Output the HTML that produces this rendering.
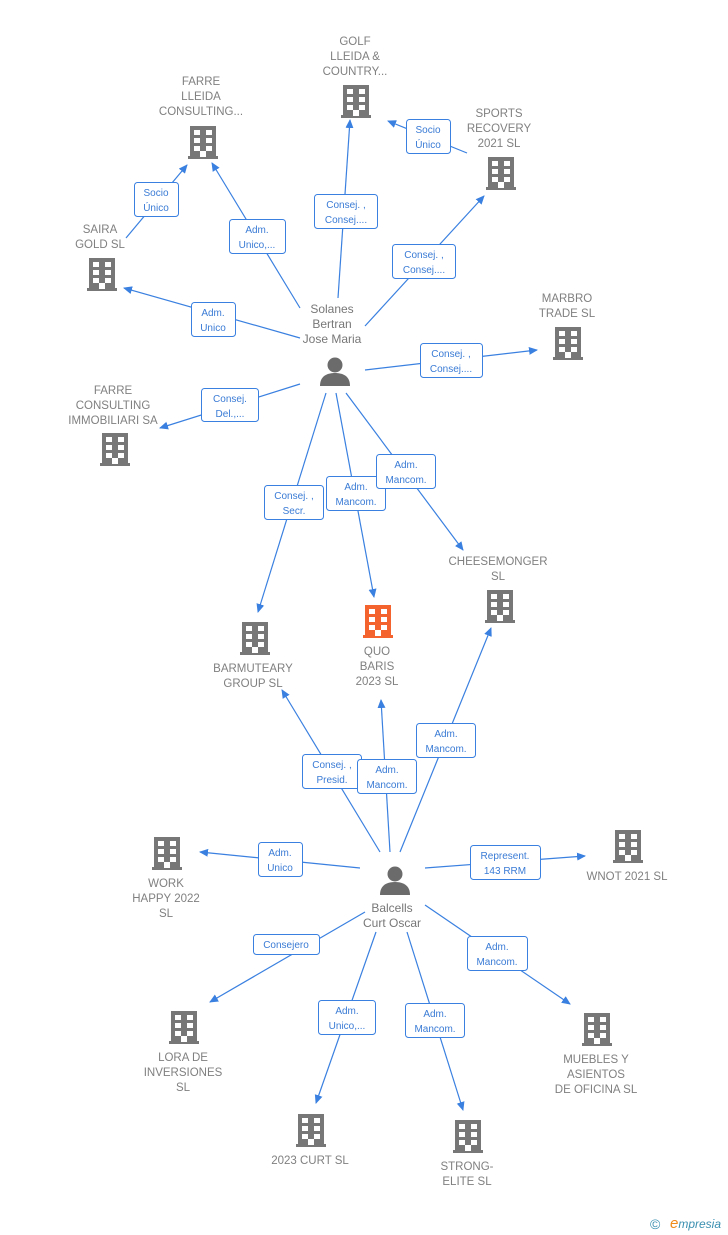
<!DOCTYPE html>
<html><head><meta charset="utf-8"><style>
html,body{margin:0;padding:0;background:#fff;}
svg{display:block;font-family:"Liberation Sans",sans-serif;}
.n{fill:#808080;font-size:11.5px;text-anchor:middle;}
.p{fill:#777;font-size:12px;text-anchor:middle;}
.b{fill:#3a7bd5;font-size:10px;text-anchor:middle;}
.l{stroke:#3a80e0;stroke-width:1.2;fill:none;}
.r{fill:#fff;stroke:#3a80e0;stroke-width:1;}
</style></head><body>
<svg width="728" height="1235" viewBox="0 0 728 1235">
<defs>
<marker id="a" markerWidth="10" markerHeight="10" refX="8" refY="5" orient="auto" markerUnits="userSpaceOnUse"><path d="M0,1 L9,5 L0,9 Z" fill="#3a80e0"/></marker>
<g id="bld">
<rect x="-13" y="0" width="26" height="31" fill="currentColor"/>
<rect x="-15" y="30" width="30" height="3" fill="currentColor"/>
<g fill="#fff">
<rect x="-9" y="4" width="6" height="5"/><rect x="3" y="4" width="6" height="5"/>
<rect x="-9" y="12" width="6" height="5"/><rect x="3" y="12" width="6" height="5"/>
<rect x="-9" y="20" width="6" height="5"/><rect x="3" y="20" width="6" height="5"/>
<rect x="-3" y="25" width="6" height="6"/>
</g></g>
<g id="per" fill="#6b6b6b">
<circle cx="0" cy="8" r="7.5"/>
<path d="M-15,29 C-15,19 -8,16 0,16 C8,16 15,19 15,29 Z"/>
</g>
</defs>
<g class="l" marker-end="url(#a)">
<line x1="338" y1="298" x2="350" y2="120"/>
<line x1="300" y1="308" x2="212" y2="163"/>
<line x1="365" y1="326" x2="484" y2="196"/>
<line x1="300" y1="338" x2="124" y2="288"/>
<line x1="365" y1="370" x2="537" y2="350"/>
<line x1="300" y1="384" x2="160" y2="428"/>
<line x1="326" y1="393" x2="258" y2="612"/>
<line x1="336" y1="393" x2="374" y2="597"/>
<line x1="346" y1="393" x2="463" y2="550"/>
<line x1="126" y1="238" x2="187" y2="165"/>
<line x1="467" y1="153" x2="388" y2="121"/>
<line x1="380" y1="852" x2="282" y2="690"/>
<line x1="390" y1="852" x2="381" y2="700"/>
<line x1="400" y1="852" x2="491" y2="628"/>
<line x1="360" y1="868" x2="200" y2="852"/>
<line x1="425" y1="868" x2="585" y2="856"/>
<line x1="365" y1="912" x2="210" y2="1002"/>
<line x1="376" y1="932" x2="316" y2="1103"/>
<line x1="407" y1="932" x2="463" y2="1110"/>
<line x1="425" y1="905" x2="570" y2="1004"/>
</g>
<g color="#777">
<use href="#bld" x="356" y="85"/><use href="#bld" x="203" y="126"/><use href="#bld" x="501" y="157"/>
<use href="#bld" x="102" y="258"/><use href="#bld" x="568" y="327"/><use href="#bld" x="115" y="433"/>
<use href="#bld" x="500" y="590"/><use href="#bld" x="255" y="622"/><use href="#bld" x="167" y="837"/>
<use href="#bld" x="628" y="830"/><use href="#bld" x="184" y="1011"/><use href="#bld" x="597" y="1013"/>
<use href="#bld" x="311" y="1114"/><use href="#bld" x="468" y="1120"/>
</g>
<use href="#bld" x="378" y="605" color="#f4622e"/>
<use href="#per" x="335" y="357"/><use href="#per" x="395" y="866"/>
<g class="n">
<text x="355" y="45">GOLF</text><text x="355" y="60">LLEIDA &amp;</text><text x="355" y="75">COUNTRY...</text>
<text x="201" y="85">FARRE</text><text x="201" y="100">LLEIDA</text><text x="201" y="115">CONSULTING...</text>
<text x="499" y="117">SPORTS</text><text x="499" y="132">RECOVERY</text><text x="499" y="147">2021  SL</text>
<text x="100" y="233">SAIRA</text><text x="100" y="248">GOLD SL</text>
<text x="567" y="302">MARBRO</text><text x="567" y="317">TRADE  SL</text>
<text x="113" y="394">FARRE</text><text x="113" y="409">CONSULTING</text><text x="113" y="424">IMMOBILIARI SA</text>
<text x="498" y="565">CHEESEMONGER</text><text x="498" y="580">SL</text>
<text x="253" y="672">BARMUTEARY</text><text x="253" y="687">GROUP  SL</text>
<text x="377" y="655">QUO</text><text x="377" y="670">BARIS</text><text x="377" y="685">2023  SL</text>
<text x="166" y="887">WORK</text><text x="166" y="902">HAPPY 2022</text><text x="166" y="917">SL</text>
<text x="627" y="880">WNOT 2021  SL</text>
<text x="183" y="1061">LORA DE</text><text x="183" y="1076">INVERSIONES</text><text x="183" y="1091">SL</text>
<text x="596" y="1063">MUEBLES Y</text><text x="596" y="1078">ASIENTOS</text><text x="596" y="1093">DE OFICINA SL</text>
<text x="310" y="1164">2023 CURT  SL</text>
<text x="467" y="1170">STRONG-</text><text x="467" y="1185">ELITE SL</text>
</g>
<g class="p">
<text x="332" y="313">Solanes</text><text x="332" y="328">Bertran</text><text x="332" y="343">Jose Maria</text>
<text x="392" y="912">Balcells</text><text x="392" y="927">Curt Oscar</text>
</g>
<g class="r">
<rect x="314.5" y="194.5" width="63" height="34" rx="3"/>
<rect x="229.5" y="219.5" width="56" height="34" rx="3"/>
<rect x="392.5" y="244.5" width="63" height="34" rx="3"/>
<rect x="191.5" y="302.5" width="44" height="34" rx="3"/>
<rect x="420.5" y="343.5" width="62" height="34" rx="3"/>
<rect x="201.5" y="388.5" width="57" height="33" rx="3"/>
<rect x="264.5" y="485.5" width="59" height="34" rx="3"/>
<rect x="326.5" y="476.5" width="59" height="34" rx="3"/>
<rect x="376.5" y="454.5" width="59" height="34" rx="3"/>
<rect x="134.5" y="182.5" width="44" height="34" rx="3"/>
<rect x="406.5" y="119.5" width="44" height="34" rx="3"/>
<rect x="302.5" y="754.5" width="59" height="34" rx="3"/>
<rect x="357.5" y="759.5" width="59" height="34" rx="3"/>
<rect x="416.5" y="723.5" width="59" height="34" rx="3"/>
<rect x="258.5" y="842.5" width="44" height="34" rx="3"/>
<rect x="470.5" y="845.5" width="70" height="34" rx="3"/>
<rect x="253.5" y="934.5" width="66" height="20" rx="3"/>
<rect x="318.5" y="1000.5" width="57" height="34" rx="3"/>
<rect x="405.5" y="1003.5" width="59" height="34" rx="3"/>
<rect x="467.5" y="936.5" width="60" height="34" rx="3"/>
</g>
<g class="b">
<text x="346" y="208">Consej. ,</text><text x="346" y="223">Consej....</text>
<text x="257" y="233">Adm.</text><text x="257" y="248">Unico,...</text>
<text x="424" y="258">Consej. ,</text><text x="424" y="273">Consej....</text>
<text x="213" y="316">Adm.</text><text x="213" y="331">Unico</text>
<text x="451" y="357">Consej. ,</text><text x="451" y="372">Consej....</text>
<text x="230" y="402">Consej.</text><text x="230" y="417">Del.,...</text>
<text x="294" y="499">Consej. ,</text><text x="294" y="514">Secr.</text>
<text x="356" y="490">Adm.</text><text x="356" y="505">Mancom.</text>
<text x="406" y="468">Adm.</text><text x="406" y="483">Mancom.</text>
<text x="156" y="196">Socio</text><text x="156" y="211">Único</text>
<text x="428" y="133">Socio</text><text x="428" y="148">Único</text>
<text x="332" y="768">Consej. ,</text><text x="332" y="783">Presid.</text>
<text x="387" y="773">Adm.</text><text x="387" y="788">Mancom.</text>
<text x="446" y="737">Adm.</text><text x="446" y="752">Mancom.</text>
<text x="280" y="856">Adm.</text><text x="280" y="871">Unico</text>
<text x="505" y="859">Represent.</text><text x="505" y="874">143 RRM</text>
<text x="286" y="948">Consejero</text>
<text x="347" y="1014">Adm.</text><text x="347" y="1029">Unico,...</text>
<text x="435" y="1017">Adm.</text><text x="435" y="1032">Mancom.</text>
<text x="497" y="950">Adm.</text><text x="497" y="965">Mancom.</text>
</g>
<text x="650" y="1229" font-size="14" fill="#3a8fb0">©</text>
<text x="670" y="1228" font-size="12" font-style="italic" fill="#3a8fb0"><tspan fill="#f08c1a" font-size="15">e</tspan>mpresia</text>
</svg>
</body></html>
